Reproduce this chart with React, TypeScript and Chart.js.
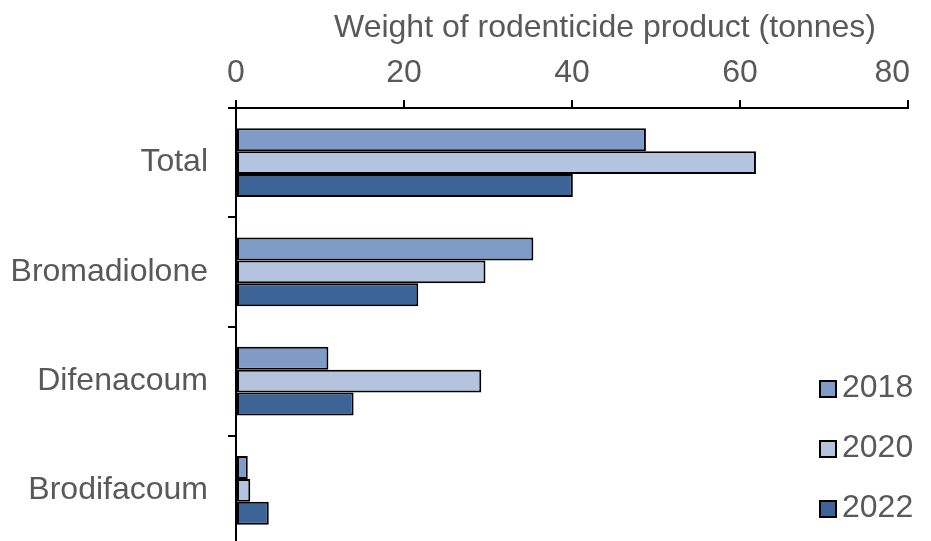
import React, { useEffect, useRef } from "react";
import { Chart, registerables } from "chart.js";

Chart.register(...registerables);

const categories = ["Total", "Bromadiolone", "Difenacoum", "Brodifacoum"];
const years = ["2018", "2020", "2022"];
const values2018 = [48.8, 35.4, 11.0, 1.4];
const values2020 = [61.9, 29.7, 29.2, 1.7];
const values2022 = [40.1, 21.7, 14.0, 3.9];
const xTicks = [0, 20, 40, 60, 80];
const axisTitle = "Weight of rodenticide product (tonnes)";

const colors = ["#7f9cc8", "#b4c4df", "#3c6496"];
const FONT = "'Liberation Sans', Arial, sans-serif";
const TEXT = "#595959";
const FS = 32;

const textPlugin = {
  id: "customText",
  afterDraw(chart: any) {
    const ctx = chart.ctx;
    ctx.save();
    ctx.font = `${FS}px ${FONT}`;
    ctx.fillStyle = TEXT;
    ctx.textBaseline = "alphabetic";
    // axis title
    ctx.textAlign = "center";
    ctx.fillText(axisTitle, 605, 37);
    // x tick labels
    const xs = chart.scales.x;
    xTicks.forEach((v) => {
      const w = ctx.measureText(String(v)).width;
      let cx = xs.getPixelForValue(v);
      if (cx + w / 2 > 910) cx = 910 - w / 2;
      ctx.fillText(String(v), cx, 82);
    });
    // legend
    chart.data.datasets.forEach((ds: any, i: number) => {
      const y = 381 + 60 * i;
      ctx.fillStyle = ds.backgroundColor;
      ctx.fillRect(820, y, 16, 16);
      ctx.strokeStyle = "#000";
      ctx.lineWidth = 2;
      ctx.strokeRect(820, y, 16, 16);
      ctx.fillStyle = TEXT;
      ctx.textAlign = "left";
      ctx.fillText(ds.label, 842, y + 16);
    });
    ctx.restore();
  },
};

export default function App() {
  const ref = useRef<HTMLCanvasElement>(null);
  useEffect(() => {
    if (!ref.current) return;
    const series = [values2018, values2020, values2022];
    const chart = new Chart(ref.current, {
      type: "bar",
      data: {
        labels: categories,
        datasets: years.map((y, i) => ({
          label: y,
          data: series[i],
          backgroundColor: colors[i],
          borderColor: "#000",
          borderWidth: 2,
          borderSkipped: false,
          categoryPercentage: 0.63,
          barPercentage: 1.0,
        })),
      },
      options: {
        indexAxis: "y",
        responsive: false,
        animation: false,
        layout: { padding: { left: 0, right: 23, top: 0, bottom: 0 } },
        plugins: { legend: { display: false }, tooltip: { enabled: false } },
        scales: {
          x: {
            position: "top",
            min: 0,
            max: 80,
            afterBuildTicks: (scale: any) => {
              scale.ticks = xTicks.map((v) => ({ value: v }));
            },
            ticks: { display: false },
            grid: {
              drawOnChartArea: false,
              drawTicks: true,
              tickLength: 8,
              color: "#000",
              lineWidth: 2,
            },
            border: { display: true, color: "#000", width: 2 },
            afterFit: (scale: any) => {
              scale.height = 108;
              scale.paddingLeft = 0;
              scale.paddingRight = 0;
            },
          },
          y: {
            ticks: {
              color: TEXT,
              font: { family: FONT, size: FS },
              padding: 20,
            },
            grid: {
              offset: true,
              drawOnChartArea: false,
              drawTicks: true,
              tickLength: 8,
              color: "#000",
              lineWidth: 2,
            },
            border: { display: true, color: "#000", width: 2 },
            afterFit: (scale: any) => {
              scale.width = 236;
              scale.paddingTop = 0;
              scale.paddingBottom = 0;
            },
          },
        },
      },
      plugins: [textPlugin],
    } as any);
    return () => chart.destroy();
  }, []);
  return (
    <div style={{ position: "fixed", left: 0, top: 0, width: 931, height: 545, background: "#fff" }}>
      <canvas ref={ref} width={931} height={545} style={{ display: "block" }} />
    </div>
  );
}
